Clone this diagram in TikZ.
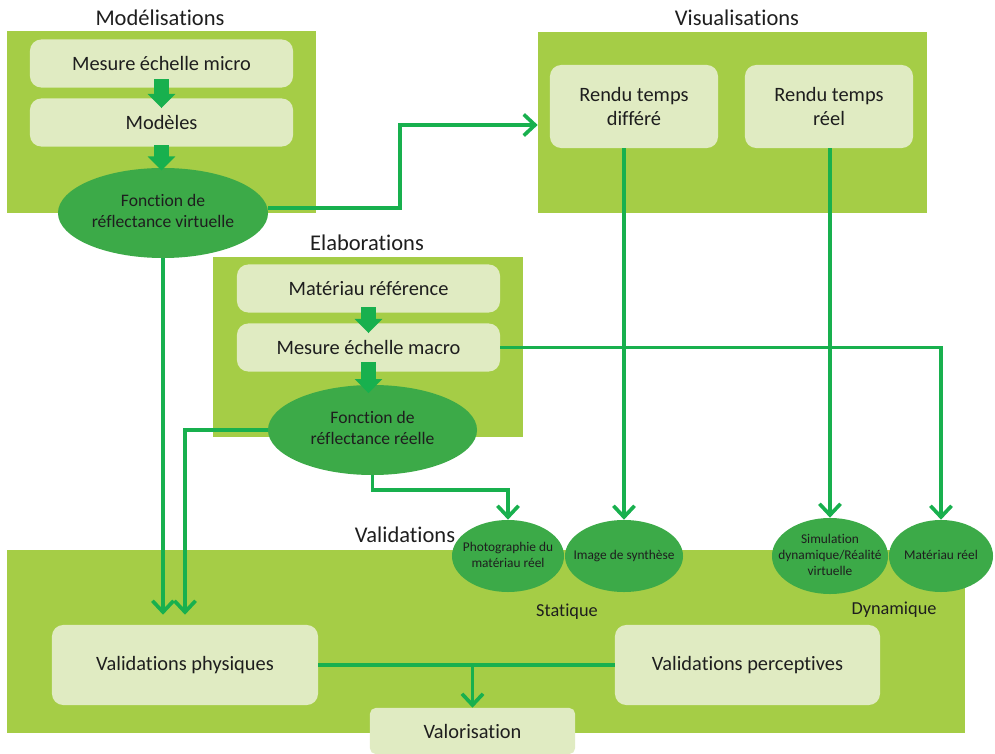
\documentclass[tikz,border=0pt]{standalone}
\usepackage{fontspec}
\setmainfont{Carlito}[Ligatures=NoCommon]
\usetikzlibrary{arrows.meta,shapes.geometric}
\definecolor{groupgreen}{RGB}{165,205,70}
\definecolor{boxgreen}{RGB}{224,235,194}
\definecolor{ovalgreen}{RGB}{60,170,72}
\definecolor{linegreen}{RGB}{24,176,78}
\definecolor{txt}{RGB}{30,30,30}
\newcommand{\ctext}[1]{\makebox[0pt]{\begin{tabular}{@{}c@{}}#1\end{tabular}}}

\begin{document}
\begin{tikzpicture}[x=0.025cm, y=-0.025cm, text=txt,
  group/.style = {fill=groupgreen, inner sep=0pt},
  title/.style = {font=\fontsize{16}{18}\selectfont},
  box/.style = {fill=boxgreen, rounded corners=8pt, inner sep=0pt, align=center, font=\fontsize{14.5}{17}\selectfont},
  oval/.style = {ellipse, fill=ovalgreen, inner sep=0pt, font=\fontsize{12.5}{15}\selectfont},
  small/.style = {ellipse, fill=ovalgreen, inner sep=0pt, font=\fontsize{9.5}{11.5}\selectfont},
  fat/.style = {draw=linegreen, line width=11pt, -{Triangle[length=10pt,width=19pt]}},
  link/.style = {draw=linegreen, line width=2.6pt},
  flow/.style = {link, -{Straight Barb[length=8pt,width=15pt]}}]
\useasboundingbox (0,0) rectangle (995,754);

\node[group, minimum width=7.725cm, minimum height=4.55cm] (modgrp) at (161.5,122) {};
\node[group, minimum width=9.725cm, minimum height=4.525cm] (visgrp) at (732.5,122.5) {};
\node[group, minimum width=7.75cm, minimum height=4.5cm] (elabgrp) at (368,347) {};
\node[group, minimum width=23.95cm, minimum height=4.575cm] (valgrp) at (486,641.5) {};

\node[title] (modtitle) at (160,18) {Modélisations};
\node[title] (vistitle) at (737,18) {Visualisations};
\node[title] (elabtitle) at (367,243) {Elaborations};
\node[title] (valtitle) at (405,535) {Validations};

\node[box, minimum width=6.575cm, minimum height=1.2cm] (mesmicro) at (161.5,63.5) {Mesure échelle micro};
\node[box, minimum width=6.575cm, minimum height=1.2cm] (modeles) at (161.5,122.5) {Modèles};
\node[oval, minimum width=5.25cm, minimum height=2.25cm] (fvirt) at (163,213) {\ctext{Fonction de\\réflectance virtuelle}};

\node[box, minimum width=4.2cm, minimum height=2.075cm] (rdiff) at (634,106.5) {Rendu temps\\différé};
\node[box, minimum width=4.2cm, minimum height=2.075cm] (rreel) at (829,106.5) {Rendu temps\\réel};

\node[box, minimum width=6.575cm, minimum height=1.2cm] (matref) at (368.5,288.5) {Matériau référence};
\node[box, minimum width=6.575cm, minimum height=1.2cm] (mesmacro) at (368.5,347.5) {Mesure échelle macro};
\node[oval, minimum width=5.225cm, minimum height=2.25cm] (freel) at (372.5,430) {\ctext{Fonction de\\réflectance réelle}};

\node[small, minimum width=2.8cm, minimum height=1.8cm] (photo) at (508,556) {\ctext{Photographie du\\matériau réel}};
\node[small, minimum width=2.95cm, minimum height=1.8cm] (synth) at (624,556) {\ctext{Image de synthèse}};
\node[small, minimum width=2.9cm, minimum height=1.9cm] (sim) at (830,556) {\ctext{Simulation\\dynamique/Réalité\\virtuelle}};
\node[small, minimum width=2.6cm, minimum height=1.8cm] (matreel) at (941,556) {\ctext{Matériau réel}};

\node[font=\fontsize{13}{15}\selectfont] (stat) at (567,612) {Statique};
\node[font=\fontsize{13}{15}\selectfont] (dyn) at (894,610) {Dynamique};

\node[box, minimum width=6.65cm, minimum height=2cm] (vphys) at (185,665) {Validations physiques};
\node[box, minimum width=6.625cm, minimum height=2cm] (vperc) at (747.5,665) {Validations perceptives};
\node[box, rounded corners=4pt, minimum width=5.125cm, minimum height=1.15cm] (valo) at (472.5,731) {Valorisation};

\draw[fat, shorten <=-6pt, shorten >=-7pt] (mesmicro) -- (modeles);
\draw[fat, shorten <=-1pt, shorten >=-2pt] (modeles.south) -- (modeles.south |- fvirt.north);
\draw[fat, shorten <=-4pt, shorten >=-7pt] (matref.south) -- (mesmacro.north);
\draw[fat, shorten <=-7pt, shorten >=-6pt] (mesmacro.south) -- (mesmacro.south |- freel.north);

\coordinate (vbend) at (400,125);
\draw[flow] ([yshift=0.125cm]fvirt.east) -| (vbend) -- (vbend -| visgrp.west);
\draw[flow, shorten >=0.25cm] (fvirt.south) -- (fvirt.south |- vphys.north);
\draw[flow, shorten >=0.25cm] (freel.west) -| (vphys.north);
\draw[flow] (freel.south) -- ++(0,15) -| (photo.north);
\draw[flow] (mesmacro.east) -| (matreel.north);
\draw[flow] (rdiff.south -| synth.north) -- (synth.north);
\draw[flow] (rreel.south -| sim.north) -- (sim.north);
\draw[link] (vphys.east) -- (vperc.west);
\draw[flow] (vphys.east -| valo.north) -- (valo.north);
\end{tikzpicture}
\end{document}
